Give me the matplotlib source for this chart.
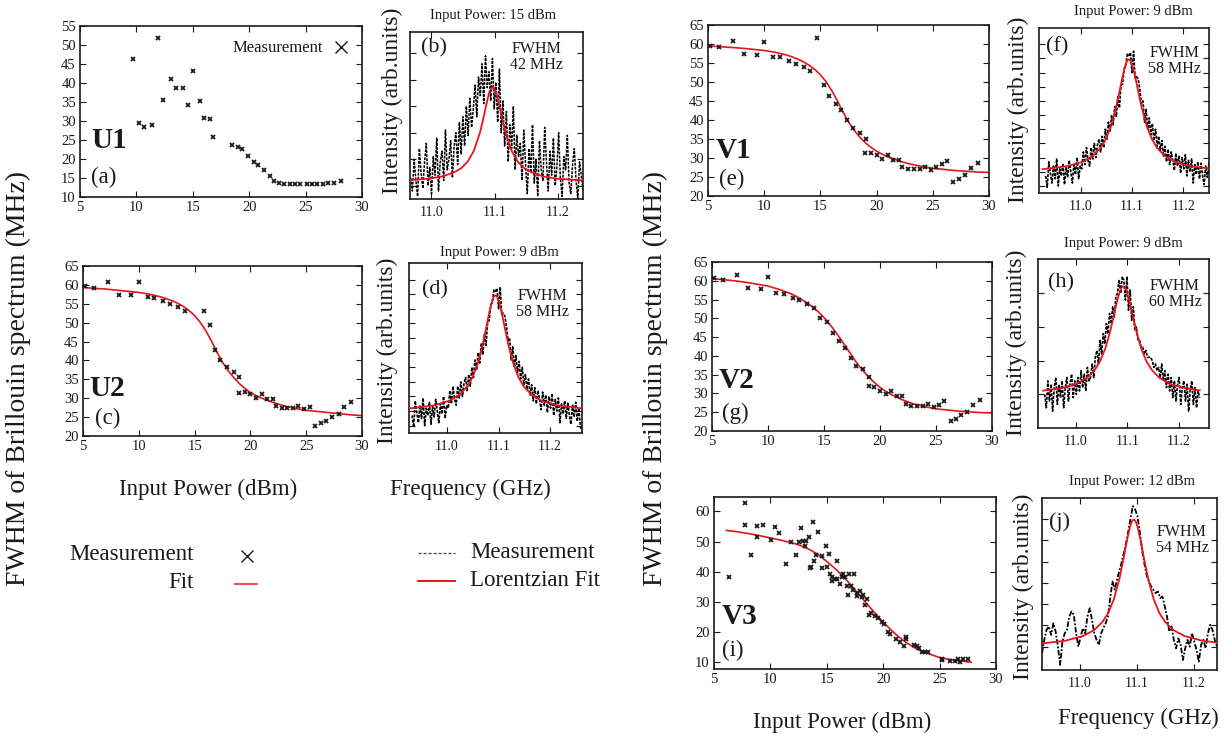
import numpy as np
import matplotlib
matplotlib.use("Agg")
import matplotlib.pyplot as plt

W, H = 1227, 738
INK = "#1a1a1a"
RED = "#e8141c"
SERIF = ["Liberation Serif", "DejaVu Serif"]

plt.rcParams.update({
    "font.family": SERIF, "font.size": 10, "text.color": INK,
    "axes.edgecolor": INK, "axes.linewidth": 1.2,
    "xtick.direction": "in", "ytick.direction": "in",
    "xtick.top": True, "ytick.right": True,
    "xtick.color": INK, "ytick.color": INK,
    "xtick.major.size": 4, "ytick.major.size": 4,
    "xtick.labelsize": 10, "ytick.labelsize": 10,
})

# ---------------- FWHM vs input power ----------------
u1_p = [9.7, 11.9, 10.2, 10.7, 11.4, 12.4, 13.1, 13.5, 14.1, 14.6, 15.0, 15.6, 16.0, 16.5,
        16.8, 18.5, 19.0, 19.4, 19.9, 20.4, 20.8, 21.3, 21.8, 22.2, 22.6, 23.1, 23.6, 24.1,
        24.5, 25.1, 25.6, 26.0, 26.5, 27.0, 27.5, 28.1]
u1_w = [46.2, 51.9, 29.4, 28.5, 29.0, 35.5, 41.1, 38.7, 38.6, 34.2, 43.1, 35.3, 30.8, 30.6,
        25.9, 23.6, 23.2, 22.6, 20.8, 19.2, 18.3, 17.0, 15.6, 14.3, 13.7, 13.5, 13.4, 13.3,
        13.3, 13.3, 13.5, 13.5, 13.5, 13.6, 13.7, 14.1]

u2_p = [5.2, 6.0, 7.2, 8.2, 9.3, 10.0, 10.8, 11.4, 12.2, 12.8, 13.5, 14.1, 15.8, 16.4, 16.8,
        17.3, 17.9, 18.5, 19.0, 19.0, 19.5, 20.0, 20.5, 21.0, 21.5, 22.0, 22.3, 22.8, 23.3,
        23.8, 24.3, 24.8, 25.3, 25.8, 26.3, 26.8, 27.3, 27.9, 28.4, 29.0]
u2_w = [59.6, 59.2, 60.7, 57.4, 57.3, 60.7, 56.7, 56.6, 55.7, 55.0, 54.1, 53.0, 53.2, 49.5,
        42.8, 40.1, 38.2, 37.0, 35.5, 31.4, 31.6, 31.1, 30.0, 31.1, 29.8, 29.8, 28.0, 27.4,
        27.3, 27.4, 28.0, 27.1, 27.8, 22.6, 23.4, 24.1, 24.9, 25.8, 27.6, 28.9]
u2_fit_p = [5, 6, 7, 8, 9, 10, 11, 12, 12.5, 13, 13.5, 14, 14.5, 15, 15.5, 16, 16.5, 17,
            17.5, 18, 18.5, 19, 19.5, 20, 20.5, 21, 22, 23, 24, 25, 26, 27, 28, 29, 30]
u2_fit_w = [59.3, 59.1, 58.9, 58.6, 58.3, 58.0, 57.5, 56.8, 56.3, 55.8, 55.1, 54.3, 53.2,
            51.9, 50.1, 47.9, 45.2, 42.2, 39.5, 37.3, 35.5, 33.9, 32.6, 31.5, 30.7, 30.0,
            28.9, 28.0, 27.3, 26.8, 26.5, 26.2, 25.9, 25.6, 25.4]

v1_p = [5.2, 6.0, 7.2, 8.2, 9.35, 10.0, 10.8, 11.4, 12.2, 12.8, 13.5, 14.1, 14.7, 15.3, 15.8,
        16.4, 16.8, 17.4, 17.9, 18.5, 19.05, 18.96, 19.5, 20.0, 20.5, 21.0, 21.5, 22.0, 22.3,
        22.8, 23.3, 23.85, 24.3, 24.8, 25.3, 25.8, 26.3, 26.8, 27.3, 27.9, 28.4, 29.0]
v1_w = [59.5, 59.1, 60.7, 57.3, 57.2, 60.6, 56.6, 56.6, 55.5, 54.8, 53.9, 53.0, 61.7, 49.3,
        46.4, 44.3, 42.6, 39.9, 37.9, 36.6, 34.9, 31.2, 31.4, 30.8, 29.8, 30.8, 29.6, 29.6,
        27.7, 27.1, 27.1, 27.1, 27.7, 26.9, 27.6, 28.4, 29.2, 23.7, 24.4, 25.6, 27.3, 28.6]
v1_fit_p = [5, 6, 7, 8, 9, 10, 11, 12, 12.5, 13, 13.5, 14, 14.5, 15, 15.5, 16, 16.5, 17,
            17.5, 18, 18.5, 19, 19.5, 20, 20.5, 21, 22, 23, 24, 25, 26, 27, 28, 29, 30]
v1_fit_w = [59.5, 59.3, 59.1, 58.9, 58.6, 58.3, 57.8, 57.1, 56.6, 56.0, 55.3, 54.4, 53.3,
            51.9, 50.1, 47.8, 45.1, 42.2, 39.5, 37.3, 35.5, 34.0, 32.8, 31.8, 31.0, 30.3,
            29.2, 28.4, 27.8, 27.3, 27.0, 26.7, 26.5, 26.3, 26.2]

v2_p = [5.2, 6.0, 7.2, 8.2, 9.4, 10.0, 10.7, 11.4, 12.2, 12.8, 13.5, 14.1, 14.6, 15.3, 15.8,
        16.3, 16.9, 17.4, 17.9, 18.5, 19.0, 19.0, 19.5, 20.0, 20.5, 21.0, 21.5, 22.0, 22.3,
        22.8, 23.3, 23.8, 24.3, 24.8, 25.3, 25.7, 26.3, 26.8, 27.2, 27.8, 28.3, 28.9]
v2_w = [60.8, 60.1, 61.5, 58.1, 57.7, 60.9, 56.8, 56.6, 55.5, 54.8, 53.9, 52.7, 50.2, 49.1,
        46.0, 44.0, 42.2, 39.4, 37.4, 36.4, 34.5, 32.1, 31.6, 30.7, 29.9, 30.7, 29.3, 29.2,
        27.2, 26.7, 26.6, 26.7, 27.2, 26.5, 27.0, 28.0, 22.6, 23.3, 24.2, 25.1, 26.8, 28.3]
v2_fit_p = [5, 6, 7, 8, 9, 10, 11, 12, 12.5, 13, 13.5, 14, 14.5, 15, 15.5, 16, 16.5, 17,
            17.5, 18, 18.5, 19, 19.5, 20, 20.5, 21, 22, 23, 24, 25, 26, 27, 28, 29, 30]
v2_fit_w = [60.6, 60.3, 60.0, 59.6, 59.1, 58.6, 57.7, 56.6, 55.9, 55.0, 54.1, 53.0, 51.7,
            50.2, 48.5, 46.5, 44.4, 42.2, 40.0, 37.8, 36.0, 34.3, 32.9, 31.6, 30.6, 29.7,
            28.3, 27.2, 26.5, 25.9, 25.6, 25.3, 25.1, 24.9, 24.8]

v3_p = [6.3, 7.75, 7.75, 8.3, 8.8, 8.8, 9.3, 10.05, 10.4, 10.8, 11.35, 11.8, 12.3, 12.5, 12.7,
        12.9, 13.1, 13.2, 13.4, 13.5, 13.6, 13.75, 13.9, 14.0, 14.2, 14.6, 14.6, 14.9, 15.0,
        15.2, 15.3, 15.5, 15.5, 15.7, 15.9, 15.9, 16.2, 16.35, 16.4, 16.6, 16.8, 16.9, 17.0,
        17.15, 17.3, 17.4, 17.65, 17.7, 17.9, 18.1, 18.2, 18.4, 18.6, 18.7, 18.9, 19.3, 19.5,
        19.9, 20.1, 20.4, 20.6, 21.1, 21.5, 21.8, 22.0, 22.05, 22.7, 23.0, 23.2, 23.4, 23.7,
        24.0, 25.2, 25.2, 25.9, 26.4, 26.6, 26.8, 27.05, 27.55]
v3_w = [38.4, 62.8, 55.6, 45.6, 51.5, 55.2, 55.6, 50.6, 54.7, 53.0, 42.6, 50.0, 45.7, 49.7,
        54.6, 50.3, 48.6, 50.3, 51.4, 41.1, 41.5, 56.6, 43.6, 45.4, 53.1, 41.2, 45.1, 48.4,
        41.5, 46.0, 39.2, 38.4, 36.8, 37.5, 37.5, 43.6, 36.0, 38.1, 39.2, 38.1, 35.4, 32.2,
        39.2, 35.1, 33.8, 39.2, 32.9, 31.8, 33.5, 31.5, 32.2, 29.0, 30.8, 25.6, 26.3, 25.4,
        24.6, 23.3, 22.7, 20.0, 19.2, 17.6, 16.6, 15.2, 17.6, 18.2, 15.8, 15.2, 14.7, 13.5,
        13.2, 13.5, 10.9, 10.7, 10.3, 10.4, 11.0, 10.1, 11.0, 11.0]
v3_fit_p = [6.1, 7, 8, 9, 10, 11, 12, 12.5, 13, 13.5, 14, 14.5, 15, 15.5, 16, 16.5, 17, 17.5,
            18, 18.5, 19, 19.5, 20, 20.5, 21, 21.5, 22, 22.5, 23, 23.5, 24, 25, 26, 27, 27.8]
v3_fit_w = [53.7, 53.3, 52.7, 52.0, 51.2, 50.4, 49.5, 48.9, 48.2, 47.3, 46.2, 44.9, 43.4,
            41.8, 40.1, 38.2, 36.2, 34.0, 31.8, 29.6, 27.4, 25.3, 23.3, 21.4, 19.6, 18.0,
            16.6, 15.4, 14.3, 13.5, 12.8, 11.5, 10.8, 10.3, 9.9]

# ---------------- Brillouin spectra (arb. units) ----------------
b_range = (10.967, 11.240)
b_meas = [0.3, -0.2, 1.0, 0.2, -0.4, 1.4, 0.5, -0.1, 0.9, 1.6, 0.0, 0.7, -0.3,
          1.1, 0.4, 1.8, -0.2, 0.9, 1.3, 0.2, 2.1, 0.6, 1.0, 1.7, 0.3, 1.5,
          2.0, 0.8, 2.4, 1.2, 2.6, 1.5, 3.0, 1.9,
          3.3, 2.2, 2.9, 3.8, 2.6, 4.1, 3.4, 4.6, 3.1, 4.9, 3.7,
          4.3, 3.2, 4.8, 2.9, 3.9, 2.4, 4.4, 2.0,
          3.2, 1.5, 2.8, 0.9, 2.3, 1.4, 3.0, 0.6, 1.9, 1.1,
          1.6, 0.2, 2.1, 0.8, -0.3, 1.4, 0.5, 2.3, 0.1, 1.0, -0.4, 1.7, 0.6, 0.2, 2.2, 0.9,
          -0.2, 1.3, 0.4, 1.8, 0.0, 0.7, 2.0, 0.3, -0.4, 1.1, 0.6, 1.9, 0.1, -0.3, 0.8, 1.4,
          0.2, -0.5, 0.9, 0.4, -0.2]
b_fit_f = [10.967, 10.997, 11.017, 11.037, 11.047, 11.057, 11.067, 11.077, 11.082, 11.087,
           11.092, 11.097, 11.102, 11.107, 11.112, 11.117, 11.127, 11.137, 11.147, 11.157,
           11.177, 11.197, 11.240]
b_fit_i = [0.21, 0.27, 0.35, 0.52, 0.66, 0.90, 1.31, 2.02, 2.52, 3.08, 3.56, 3.75, 3.56,
           3.08, 2.52, 2.02, 1.31, 0.90, 0.66, 0.52, 0.35, 0.27, 0.20]

s9_range = (10.932, 11.262)
s9_meas = [1.2, 0.4, 2.2, 1.4, 0.7, 1.9, 1.0, 2.4, 0.5, 1.7, 1.2, 2.1, 0.6, 1.8, 1.1, 2.3,
           1.5, 0.7, 2.0, 1.3, 2.5, 1.0, 1.9,
           1.7, 2.9, 2.0, 3.2, 2.3, 1.9, 3.2, 2.4, 3.5, 2.5, 3.4, 3.8, 2.9,
           4.0, 3.2, 4.5, 3.8, 5.0, 4.3, 5.5, 4.8, 6.1, 5.4,
           6.8, 6.0, 7.6, 7.7, 8.8, 8.9, 9.8, 9.7,
           9.9, 8.5, 10.0, 8.1, 8.2, 8.0, 7.3, 6.3,
           6.5, 5.0, 5.9, 4.5, 5.3, 4.1, 4.9, 3.7, 4.5, 3.3, 4.0, 3.0, 3.7,
           2.6, 3.3, 2.2, 3.1, 2.0, 2.9, 2.3, 1.6, 2.8, 1.9, 2.6, 1.4, 2.5, 1.7, 2.7, 1.2,
           2.3, 1.5, 2.4, 0.7, 2.0, 1.3, 2.2, 1.0, 2.1, 1.2, 0.6, 1.9, 1.1, 2.1, 0.8, 1.7,
           0.4, 0.2]
s9_fit_f = [10.926, 10.974, 11.004, 11.024, 11.039, 11.049, 11.059, 11.069, 11.076, 11.082,
            11.088, 11.091, 11.094, 11.097, 11.100, 11.106, 11.112, 11.119, 11.129, 11.139,
            11.149, 11.164, 11.184, 11.214, 11.262]
s9_fit_i = [1.68, 1.89, 2.20, 2.62, 3.18, 3.79, 4.70, 6.03, 7.21, 8.26, 9.10, 9.35, 9.43,
            9.35, 9.10, 8.26, 7.21, 6.03, 4.70, 3.79, 3.18, 2.62, 2.20, 1.89, 1.68]

h_range = (10.940, 11.240)
h_meas = [1.0, 0.6, 1.4, 0.8, 1.3, 0.5, 1.2, 1.5, 0.7, 1.3, 0.9, 1.4, 0.6, 1.2, 1.5, 0.8,
          1.3, 1.6, 0.9, 1.4,
          1.0, 1.5, 1.1, 1.7, 1.2, 1.6, 1.1, 1.8, 1.4, 1.5, 1.9, 1.5, 2.1,
          2.3, 1.9, 2.6, 2.2, 2.8, 2.5, 3.1, 2.8, 3.4, 3.1,
          3.6, 3.3, 3.9, 4.0, 4.4, 4.0, 4.5,
          4.4, 3.8, 4.5, 3.5, 4.1, 3.2, 3.6, 2.9, 3.0,
          2.6, 2.6, 2.4, 2.4, 2.2, 2.3, 2.1, 2.1, 2.1, 2.0, 1.8, 1.9, 1.7, 1.8, 1.5, 1.9, 1.4,
          1.7, 1.2, 1.6, 1.1, 1.5, 0.9, 1.4, 0.8, 1.3, 1.5, 0.7, 1.2, 1.4, 0.8, 1.3, 0.5,
          1.1, 1.4, 0.7, 1.2, 0.6, 1.1, 0.9]
h_fit_f = [10.937, 10.972, 11.002, 11.022, 11.037, 11.047, 11.057, 11.067, 11.074, 11.080,
           11.086, 11.089, 11.092, 11.095, 11.098, 11.104, 11.110, 11.117, 11.127, 11.137,
           11.147, 11.162, 11.182, 11.212, 11.240]
h_fit_i = [1.11, 1.18, 1.31, 1.49, 1.73, 1.98, 2.35, 2.89, 3.36, 3.77, 4.09, 4.18, 4.21,
           4.18, 4.09, 3.77, 3.36, 2.89, 2.35, 1.98, 1.73, 1.49, 1.31, 1.18, 1.12]

j_range = (10.934, 11.241)
j_meas = [0.69, 1.32, 1.79, 1.95, 1.55, 2.10, 1.71, 1.00, 0.14, 1.24, 1.63, 1.79, 2.42,
          2.66, 2.50, 1.63, 1.00, 1.47, 1.87, 1.63, 2.42, 2.81, 2.26, 1.63, 1.32, 1.08,
          1.63, 1.87, 2.10, 2.42, 3.29, 4.07, 3.68, 4.15, 4.55, 4.94, 5.41, 5.88, 6.44,
          7.07, 7.62, 7.46, 7.14, 6.44, 5.57, 4.94, 4.39, 4.07, 3.84, 3.68, 3.52, 3.60,
          3.29, 3.36, 2.89, 2.42, 1.71, 1.95, 1.32, 0.92, 1.39, 1.08, 0.37, 0.92, 1.32,
          1.00, 1.63, 1.24, 0.84, 0.29, 1.08, 1.32, 0.92, 1.63, 2.03, 1.79, 1.32, 1.00]
j_fit_f = [10.934, 10.975, 11.005, 11.025, 11.040, 11.050, 11.060, 11.070, 11.077, 11.083,
           11.089, 11.092, 11.095, 11.098, 11.101, 11.107, 11.113, 11.120, 11.130, 11.140,
           11.150, 11.165, 11.185, 11.215, 11.241]
j_fit_i = [1.15, 1.28, 1.49, 1.77, 2.16, 2.58, 3.23, 4.22, 5.15, 6.00, 6.71, 6.92, 6.99,
           6.92, 6.71, 6.00, 5.15, 4.22, 3.23, 2.58, 2.16, 1.77, 1.49, 1.28, 1.19]

fig = plt.figure(figsize=(W / 100, H / 100), dpi=100)


def panel(l, t, r, b):
    return fig.add_axes([l / W, 1 - b / H, (r - l) / W, (b - t) / H])


def put(x, y, s, **kw):
    kw.setdefault("ha", "center")
    kw.setdefault("va", "center")
    fig.text(x / W, 1 - y / H, s, **kw)


def power_panel(box, p, w, fit_p=None, fit_w=None, ylim=(20, 65), ystep=5,
                name="", tag="", name_xy=(0, 0), tag_xy=(0, 0)):
    ax = panel(*box)
    if fit_p is not None:
        ax.plot(fit_p, fit_w, color=RED, lw=1.2, zorder=2)
    ax.plot(p, w, ls="none", marker="x", ms=3.5, mew=1.3, color=INK, zorder=3,
            clip_on=False)
    ax.set_xlim(5, 30)
    ax.set_ylim(*ylim)
    ax.set_xticks(range(5, 31, 5))
    lo = int(np.ceil(ylim[0] / ystep) * ystep)
    ax.set_yticks(range(lo, int(ylim[1]) + 1, ystep))
    ax.tick_params(labelsize=10.5, pad=3)
    put(name_xy[0], name_xy[1], name, ha="left", fontsize=21, fontweight="bold")
    put(tag_xy[0], tag_xy[1], tag, ha="left", fontsize=16.5)
    return ax


def spectrum_panel(box, rng, meas, fit_f, fit_i, xlim, ylim, yticks, tag, tag_xy,
                   fwhm, fwhm_xy, title, title_xy, ylab_xy, ls=(0, (1.8, 0.8)), lw=1.2):
    ax = panel(*box)
    f = np.linspace(rng[0], rng[1], len(meas))
    ax.plot(f, meas, color="black", lw=lw, ls=ls, zorder=2)
    ax.plot(fit_f, fit_i, color=RED, lw=1.3, zorder=3)
    ax.set_xlim(*xlim)
    ax.set_ylim(*ylim)
    ax.set_xticks([11.0, 11.1, 11.2])
    ax.set_xticklabels(["11.0", "11.1", "11.2"])
    ax.set_yticks(yticks)
    ax.tick_params(axis="y", labelleft=False)
    ax.tick_params(axis="x", labelsize=10, pad=5)
    put(tag_xy[0], tag_xy[1], tag, ha="left", fontsize=16)
    put(fwhm_xy[0], fwhm_xy[1], "FWHM\n" + fwhm, fontsize=11.5, linespacing=1.05)
    put(title_xy[0], title_xy[1], title, fontsize=10.5)
    put(ylab_xy[0], ylab_xy[1], "Intensity (arb.units)", rotation=90, fontsize=17)
    return ax


# left block
ax_a = power_panel((80, 26, 362, 197), u1_p, u1_w, ylim=(10, 55), name="U1", tag="(a)",
                   name_xy=(91, 141), tag_xy=(91, 177))
ax_a.text(0.86, 0.87, "Measurement", transform=ax_a.transAxes, ha="right", va="center",
          fontsize=12)
ax_a.plot([0.925], [0.88], transform=ax_a.transAxes, marker="x", ms=8, mew=1.0,
          color=INK, ls="none")

spectrum_panel((410, 32, 583, 199), b_range, b_meas, b_fit_f, b_fit_i, (10.966, 11.240),
               (-0.5, 5.8), range(0, 6), "(b)", (421, 48), "42 MHz", (537, 57),
               "Input Power: 15 dBm", (493, 15), (392, 101), lw=1.1)

power_panel((83, 266, 362, 436), u2_p, u2_w, u2_fit_p, u2_fit_w, name="U2", tag="(c)",
            name_xy=(89, 389), tag_xy=(95, 418))

spectrum_panel((409, 263, 582, 433), s9_range, s9_meas, s9_fit_f, s9_fit_i,
               (10.926, 11.262), (0, 11.64), np.arange(0.5, 11, 1.0), "(d)", (422, 290),
               "58 MHz", (543, 304), "Input Power: 9 dBm", (499, 252), (387, 351))

# right block
power_panel((708, 25, 989, 196), v1_p, v1_w, v1_fit_p, v1_fit_w, name="V1", tag="(e)",
            name_xy=(716, 150), tag_xy=(719, 179))
spectrum_panel((1039, 28, 1209, 193), s9_range, s9_meas, s9_fit_f, s9_fit_i,
               (10.919, 11.250), (0, 11.64), np.arange(0.5, 11, 1.0), "(f)", (1046, 47),
               "58 MHz", (1175, 61), "Input Power: 9 dBm", (1133, 12), (1018, 110))

power_panel((712, 262, 992, 431), v2_p, v2_w, v2_fit_p, v2_fit_w, name="V2", tag="(g)",
            name_xy=(719, 380), tag_xy=(722, 413))
spectrum_panel((1038, 259, 1209, 428), h_range, h_meas, h_fit_f, h_fit_i,
               (10.927, 11.258), (0, 5.02), range(1, 5), "(h)", (1048, 283),
               "60 MHz", (1175, 294), "Input Power: 9 dBm", (1123, 243), (1016, 343))

power_panel((714, 497, 996, 669), v3_p, v3_w, v3_fit_p, v3_fit_w, ylim=(7.7, 64.8),
            ystep=10, name="V3", tag="(i)", name_xy=(722, 617), tag_xy=(722, 650))
spectrum_panel((1042, 498, 1217, 670), j_range, j_meas, j_fit_f, j_fit_i,
               (10.934, 11.241), (-0.1, 8.0), range(1, 8), "(j)", (1049, 522),
               "54 MHz", (1182, 540), "Input Power: 12 dBm", (1132, 482), (1023, 587),
               ls=(0, (3.0, 1.0, 1.0, 1.0)), lw=1.3)

# shared axis labels
put(18, 378, "FWHM of Brillouin spectrum (MHz)", rotation=90, fontsize=20)
put(655, 378, "FWHM of Brillouin spectrum (MHz)", rotation=90, fontsize=20)
put(208, 489, "Input Power (dBm)", fontsize=16.5)
put(470, 489, "Frequency (GHz)", fontsize=16.5)
put(842, 722, "Input Power (dBm)", fontsize=16.5)
put(1138, 718, "Frequency (GHz)", fontsize=16.5)

# bottom-left legends (pixel overlay)
lg = fig.add_axes([0, 0, 1, 1])
lg.set_xlim(0, W)
lg.set_ylim(H, 0)
lg.axis("off")
put(194, 555, "Measurement", ha="right", fontsize=16.5)
lg.plot([247], [556], marker="x", ms=8, mew=1.0, color=INK, ls="none")
put(194, 582, "Fit", ha="right", fontsize=16.5)
lg.plot([235, 257], [584, 584], color="#ee5050", lw=1.4)
lg.plot([418, 455], [553, 553], color="#444444", lw=0.9, ls=(0, (2.5, 1.5)))
put(470, 553, "Measurement", ha="left", fontsize=16.5)
lg.plot([418, 455], [581, 581], color=RED, lw=1.4)
put(470, 581, "Lorentzian Fit", ha="left", fontsize=16.5)

fig.savefig("out.png", dpi=100, facecolor="white")
